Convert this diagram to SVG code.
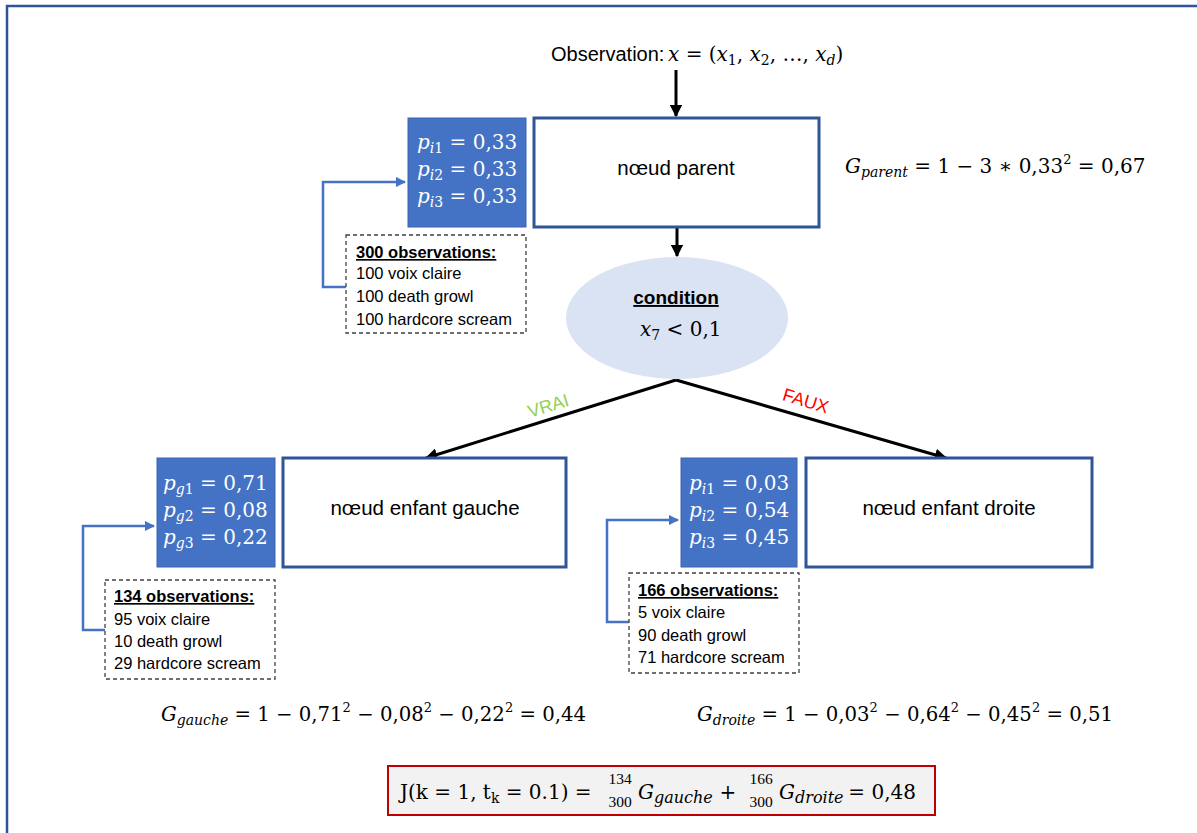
<svg xmlns="http://www.w3.org/2000/svg" width="1197" height="833" viewBox="0 0 1197 833">
  <style>
    .sans { font-family: "Liberation Sans", Arial, sans-serif; fill: #000; }
    .m { font-family: "DejaVu Serif", "Liberation Serif", serif; font-size: 20px; fill: #000; }
    .mw { font-family: "DejaVu Serif", "Liberation Serif", serif; font-size: 20px; fill: #fff; }
    .gini { font-family: "DejaVu Serif", "Liberation Serif", serif; font-size: 19.7px; fill: #000; }
    .frac { font-family: "Liberation Serif", "Times New Roman", serif; font-size: 15.5px; fill: #000; text-anchor: middle; }
    .i { font-style: italic; }
    .sub { font-size: 14px; }
    .subj { font-size: 16px; }
    .sup { font-size: 13px; }
    .node { fill: #fff; stroke: #2F5597; stroke-width: 3; }
    .prob { fill: #4472C4; stroke: #3A65B0; stroke-width: 1; }
    .obs { fill: #fff; stroke: #404040; stroke-width: 1.3; stroke-dasharray: 4 3; }
    .edge { fill: none; stroke: #000; stroke-width: 3; }
    .link { fill: none; stroke: #4472C4; stroke-width: 2.5; }
    .lbl { font-family: "Liberation Sans", Arial, sans-serif; font-size: 16.5px; fill: #000; }
    .ttl { font-weight: bold; text-decoration: underline; }
    .nodetxt { font-family: "Liberation Sans", Arial, sans-serif; font-size: 20.5px; fill: #000; text-anchor: middle; }
  </style>
  <defs>
    <marker id="arrowBlack" viewBox="0 0 10 10" refX="9" refY="5" markerWidth="4.2" markerHeight="4.2" orient="auto" markerUnits="strokeWidth">
      <path d="M0,0 L10,5 L0,10 Z" fill="#000"/>
    </marker>
    <marker id="arrowBlue" viewBox="0 0 10 10" refX="9" refY="5" markerWidth="4.2" markerHeight="4.2" orient="auto" markerUnits="strokeWidth">
      <path d="M0,0 L10,5 L0,10 Z" fill="#4472C4"/>
    </marker>
  </defs>

  <!-- page frame -->
  <rect x="7" y="6" width="1200" height="840" fill="#fff" stroke="#2F5597" stroke-width="2.5"/>

  <!-- connectors -->
  <g id="connectors">
    <line class="edge" x1="676" y1="70" x2="676" y2="116" marker-end="url(#arrowBlack)"/>
    <line class="edge" x1="677" y1="228" x2="677" y2="256" marker-end="url(#arrowBlack)"/>
    <line class="edge" x1="676" y1="380" x2="426" y2="458" marker-end="url(#arrowBlack)"/>
    <line class="edge" x1="676" y1="380" x2="946" y2="458" marker-end="url(#arrowBlack)"/>
    <polyline class="link" points="346,287 323,287 323,182 405,182" marker-end="url(#arrowBlue)"/>
    <polyline class="link" points="105,630 83,630 83,526 154,526" marker-end="url(#arrowBlue)"/>
    <polyline class="link" points="629,622 607,622 607,520 678,520" marker-end="url(#arrowBlue)"/>
    <text x="548" y="412" transform="rotate(-17 548 405)" text-anchor="middle" font-family="Liberation Sans, Arial, sans-serif" font-size="18" fill="#92D050">VRAI</text>
    <text x="806" y="407" transform="rotate(17 806 400)" text-anchor="middle" font-family="Liberation Sans, Arial, sans-serif" font-size="18" fill="#FF0000">FAUX</text>
  </g>

  <!-- input observation -->
  <g id="observation">
    <text x="551" y="61" class="sans" font-size="20">Observation:</text>
    <text x="668" y="61" class="m"><tspan class="i">x</tspan> = (<tspan class="i">x</tspan><tspan class="sub" dy="4">1</tspan><tspan dy="-4">, </tspan><tspan class="i">x</tspan><tspan class="sub" dy="4">2</tspan><tspan dy="-4">, …, </tspan><tspan class="i">x</tspan><tspan class="sub i" dy="4">d</tspan><tspan dy="-4">)</tspan></text>
  </g>

  <!-- parent node -->
  <g id="parent">
    <rect class="node" x="534" y="118" width="285" height="109"/>
    <text x="676" y="175" class="nodetxt">nœud parent</text>
  </g>
  <g id="parent-probs">
    <rect class="prob" x="408" y="118" width="118" height="109"/>
    <text x="417" y="149" class="mw"><tspan class="i">p</tspan><tspan class="sub i" dy="4">i</tspan><tspan class="sub">1</tspan><tspan dy="-4"> = 0,33</tspan></text>
    <text x="417" y="176" class="mw"><tspan class="i">p</tspan><tspan class="sub i" dy="4">i</tspan><tspan class="sub">2</tspan><tspan dy="-4"> = 0,33</tspan></text>
    <text x="417" y="203" class="mw"><tspan class="i">p</tspan><tspan class="sub i" dy="4">i</tspan><tspan class="sub">3</tspan><tspan dy="-4"> = 0,33</tspan></text>
  </g>
  <g id="parent-counts">
    <rect class="obs" x="346" y="235" width="180" height="98"/>
    <text x="356" y="258" class="lbl ttl">300 observations:</text>
    <text x="356" y="279" class="lbl">100 voix claire</text>
    <text x="356" y="302" class="lbl">100 death growl</text>
    <text x="356" y="325" class="lbl">100 hardcore scream</text>
  </g>
  <g id="gini-parent">
    <text x="845" y="173" class="m"><tspan class="i">G</tspan><tspan class="sub i" dy="4">parent</tspan><tspan dy="-4"> = 1 − 3 ∗ 0,33</tspan><tspan class="sup" dy="-9">2</tspan><tspan dy="9"> = 0,67</tspan></text>
  </g>

  <!-- split condition -->
  <g id="condition">
    <ellipse cx="677" cy="318" rx="111" ry="61" fill="#DAE3F3"/>
    <text x="676" y="304" class="sans ttl" font-size="19" text-anchor="middle">condition</text>
    <text x="640" y="336" class="m"><tspan class="i">x</tspan><tspan class="sub" dy="4">7</tspan><tspan dy="-4"> &lt; 0,1</tspan></text>
  </g>

  <!-- left child -->
  <g id="child-left">
    <rect class="node" x="283" y="458" width="283" height="109"/>
    <text x="425" y="515" class="nodetxt">nœud enfant gauche</text>
  </g>
  <g id="child-left-probs">
    <rect class="prob" x="157" y="458" width="118" height="109"/>
    <text x="163" y="490" class="mw"><tspan class="i">p</tspan><tspan class="sub i" dy="4">g</tspan><tspan class="sub">1</tspan><tspan dy="-4"> = 0,71</tspan></text>
    <text x="163" y="517" class="mw"><tspan class="i">p</tspan><tspan class="sub i" dy="4">g</tspan><tspan class="sub">2</tspan><tspan dy="-4"> = 0,08</tspan></text>
    <text x="163" y="544" class="mw"><tspan class="i">p</tspan><tspan class="sub i" dy="4">g</tspan><tspan class="sub">3</tspan><tspan dy="-4"> = 0,22</tspan></text>
  </g>
  <g id="child-left-counts">
    <rect class="obs" x="105" y="580" width="170" height="99"/>
    <text x="114" y="602" class="lbl ttl">134 observations:</text>
    <text x="114" y="625" class="lbl">95 voix claire</text>
    <text x="114" y="647" class="lbl">10 death growl</text>
    <text x="114" y="669" class="lbl">29 hardcore scream</text>
  </g>
  <g id="gini-left">
    <text x="161" y="721" class="gini"><tspan class="i">G</tspan><tspan class="sub i" dy="4">gauche</tspan><tspan dy="-4"> = 1 − 0,71</tspan><tspan class="sup" dy="-9">2</tspan><tspan dy="9"> − 0,08</tspan><tspan class="sup" dy="-9">2</tspan><tspan dy="9"> − 0,22</tspan><tspan class="sup" dy="-9">2</tspan><tspan dy="9"> = 0,44</tspan></text>
  </g>

  <!-- right child -->
  <g id="child-right">
    <rect class="node" x="806" y="458" width="286" height="109"/>
    <text x="949" y="515" class="nodetxt">nœud enfant droite</text>
  </g>
  <g id="child-right-probs">
    <rect class="prob" x="681" y="458" width="116" height="109"/>
    <text x="689" y="490" class="mw"><tspan class="i">p</tspan><tspan class="sub i" dy="4">i</tspan><tspan class="sub">1</tspan><tspan dy="-4"> = 0,03</tspan></text>
    <text x="689" y="517" class="mw"><tspan class="i">p</tspan><tspan class="sub i" dy="4">i</tspan><tspan class="sub">2</tspan><tspan dy="-4"> = 0,54</tspan></text>
    <text x="689" y="544" class="mw"><tspan class="i">p</tspan><tspan class="sub i" dy="4">i</tspan><tspan class="sub">3</tspan><tspan dy="-4"> = 0,45</tspan></text>
  </g>
  <g id="child-right-counts">
    <rect class="obs" x="629" y="573" width="170" height="100"/>
    <text x="638" y="596" class="lbl ttl">166 observations:</text>
    <text x="638" y="618" class="lbl">5 voix claire</text>
    <text x="638" y="641" class="lbl">90 death growl</text>
    <text x="638" y="663" class="lbl">71 hardcore scream</text>
  </g>
  <g id="gini-right">
    <text x="697" y="721" class="gini"><tspan class="i">G</tspan><tspan class="sub i" dy="4">droite</tspan><tspan dy="-4"> = 1 − 0,03</tspan><tspan class="sup" dy="-9">2</tspan><tspan dy="9"> − 0,64</tspan><tspan class="sup" dy="-9">2</tspan><tspan dy="9"> − 0,45</tspan><tspan class="sup" dy="-9">2</tspan><tspan dy="9"> = 0,51</tspan></text>
  </g>

  <!-- weighted impurity of the split -->
  <g id="cost">
    <rect x="388" y="766" width="547" height="49" fill="#F2F2F2" stroke="#C00000" stroke-width="2"/>
    <text x="400" y="799" class="m" font-size="20.5">J(k = 1, t<tspan class="sub" dy="4">k</tspan><tspan dy="-4"> = 0.1) =</tspan></text>
    <text x="620" y="784" class="frac">134</text>
    <text x="620" y="807" class="frac">300</text>
    <text x="638" y="799" class="m"><tspan class="i">G</tspan><tspan class="subj i" dy="4">gauche</tspan></text>
    <text x="728" y="799" class="m" text-anchor="middle">+</text>
    <text x="761" y="784" class="frac">166</text>
    <text x="761" y="807" class="frac">300</text>
    <text x="779" y="799" class="m"><tspan class="i">G</tspan><tspan class="subj i" dy="4">droite</tspan></text>
    <text x="916" y="799" class="m" text-anchor="end">= 0,48</text>
  </g>
</svg>
